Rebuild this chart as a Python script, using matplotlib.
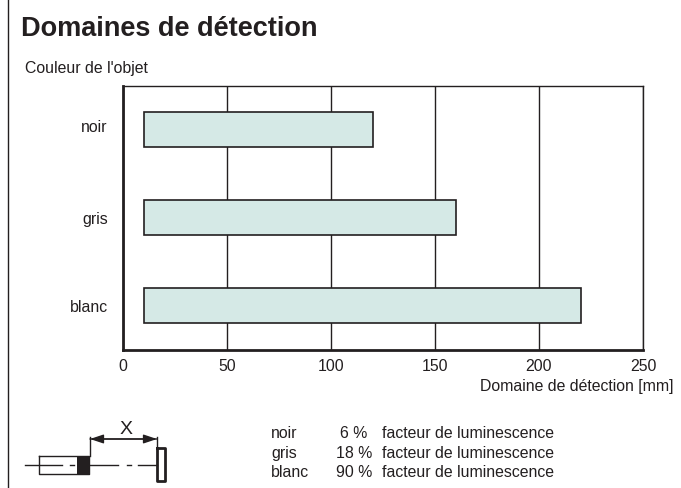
import matplotlib
matplotlib.use("Agg")
import matplotlib.pyplot as plt
from matplotlib.transforms import ScaledTranslation

plt.rcParams["font.family"] = ["Liberation Sans", "DejaVu Sans"]

W, H = 681, 488
INK = "#231f20"
BAR = "#d5e9e6"
FS = 11.4

colours = ["noir", "gris", "blanc"]
range_start = [10, 10, 10]
range_end = [120, 160, 220]
xticks = [0, 50, 100, 150, 200, 250]

legend_names = ["noir", "gris", "blanc"]
legend_percent = ["6 %", "18 %", "90 %"]
legend_text = "facteur de luminescence"


def px_axes(fig, left, top, right, bottom):
    return fig.add_axes([left / W, 1 - bottom / H, (right - left) / W, (bottom - top) / H])


def main():
    fig = plt.figure(figsize=(W / 100, H / 100), dpi=100)

    # Chart
    ax = px_axes(fig, 123, 86, 643, 349.5)
    widths = [e - s for s, e in zip(range_start, range_end)]
    ax.barh(colours, widths, left=range_start, height=0.4, color=BAR,
            edgecolor=INK, linewidth=1.2, zorder=3)
    ax.set_xlim(0, 250)
    ax.set_ylim(2.5, -0.5)
    ax.set_xticks(xticks)
    ax.grid(axis="x", color=INK, linewidth=1.0, zorder=1)
    ax.tick_params(length=0, labelsize=FS, colors=INK, pad=7)
    ax.tick_params(axis="y", pad=11)
    for s, lw in [("left", 2.0), ("bottom", 2.0), ("top", 1.0), ("right", 1.0)]:
        ax.spines[s].set_linewidth(lw)
        ax.spines[s].set_color(INK)

    # "noir" sits a little above its bar in the original
    lab = ax.get_yticklabels()[0]
    lab.set_transform(lab.get_transform() + ScaledTranslation(0, 4 / 100, fig.dpi_scale_trans))

    # Overlay in pixel coordinates for texts and the sensor sketch
    ov = fig.add_axes([0, 0, 1, 1], zorder=5)
    ov.set_xlim(0, W)
    ov.set_ylim(H, 0)
    ov.axis("off")

    ov.plot([8, 8], [0, H], color=INK, lw=1.0)
    ov.text(21, 29, "Domaines de détection", fontsize=19.5, fontweight="bold",
            color=INK, va="center")
    ov.text(25, 69, "Couleur de l'objet", fontsize=FS, color=INK, va="center")
    ov.text(674, 387, "Domaine de détection [mm]", fontsize=FS, color=INK,
            va="center", ha="right")

    # Luminescence table
    rows = [434, 453.5, 472.5]
    pct_right = [367, 372, 372]
    for i, y in enumerate(rows):
        ov.text(271, y, legend_names[i], fontsize=FS, color=INK, va="center")
        ov.text(pct_right[i], y, legend_percent[i], fontsize=FS, color=INK, va="center", ha="right")
        ov.text(382, y, legend_text, fontsize=FS, color=INK, va="center")

    # Sensor sketch
    ov.plot([25, 62], [464.5, 464.5], color=INK, lw=1.0)
    ov.plot([39, 39, 89, 89, 39], [456, 473.5, 473.5, 456, 456], color=INK, lw=1.0)
    ov.plot([70, 74], [464.5, 464.5], color=INK, lw=1.0)
    ov.fill([77, 90, 90, 77], [455.5, 455.5, 474, 474], color=INK, lw=0)
    ov.plot([90, 118], [464.5, 464.5], color=INK, lw=1.0)
    ov.plot([127, 131], [464.5, 464.5], color=INK, lw=1.0)
    ov.plot([138, 157], [464.5, 464.5], color=INK, lw=1.0)
    ov.plot([157, 157, 165, 165, 157], [448, 481, 481, 448, 448], color=INK, lw=2.0)
    ov.plot([89.5, 89.5], [437, 456], color=INK, lw=1.0)
    ov.plot([157, 157], [437, 448], color=INK, lw=1.0)
    ov.annotate("", xy=(90, 439), xytext=(157, 439),
                arrowprops=dict(arrowstyle="-|>,head_length=0.9,head_width=0.3", color=INK,
                                lw=1.0, mutation_scale=9, shrinkA=0, shrinkB=0))
    ov.annotate("", xy=(157, 439), xytext=(90, 439),
                arrowprops=dict(arrowstyle="-|>,head_length=0.9,head_width=0.3", color=INK,
                                lw=1.0, mutation_scale=9, shrinkA=0, shrinkB=0))
    ov.text(126, 429, "X", fontsize=14, color=INK, ha="center", va="center")

    fig.savefig("out.png", dpi=100, facecolor="white")


if __name__ == "__main__":
    main()
